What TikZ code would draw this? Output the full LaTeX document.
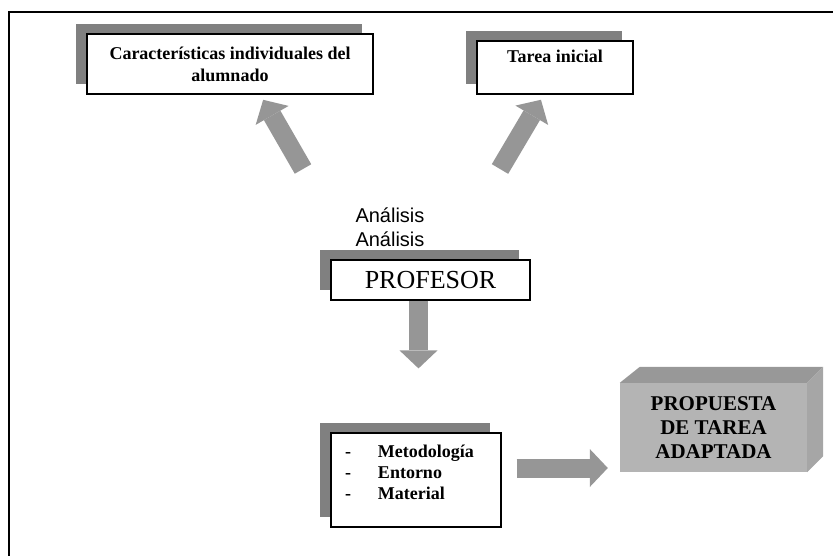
\documentclass[tikz,border=0pt]{standalone}
\usepackage{fontspec}
\setmainfont{Liberation Serif}
\newfontfamily\arialfont{Liberation Sans}
\usetikzlibrary{arrows.meta,shadows,calc,positioning}
\definecolor{shadowgray}{HTML}{808080}
\definecolor{arrowgray}{HTML}{969696}
\definecolor{frontgray}{HTML}{B4B4B4}
\definecolor{topgray}{HTML}{989898}
\definecolor{sidegray}{HTML}{A6A6A6}
\tikzset{
    %Define style for boxes
    shadowbox/.style={
           rectangle,
           draw=black, line width=1.2pt,
           fill=white,
           font=\bfseries\fontsize{18}{22}\selectfont,
           align=center,
           general shadow={fill=shadowgray, shadow xshift=-11pt, shadow yshift=10pt}},
    % Define arrow style
    bigarrow/.style={
           draw=arrowgray,
           line width=19pt,
           -{Triangle[length=18pt,width=38pt,line width=0pt]}},
}
\begin{document}
\begin{tikzpicture}[x=1pt,y=-1pt]
\useasboundingbox (0,0) rectangle (833,555);
\clip (0,0) rectangle (833,555);
% frame
\draw[line width=2pt] (9,570) -- (9,12) -- (850,12);
% boxes
\node[shadowbox, minimum width=286pt, minimum height=60pt] (car) at (230,64) {Características individuales del\\alumnado};
\node[shadowbox, minimum width=156pt, minimum height=53pt] (tarea) at (555,67.5) {Tarea inicial\\~};
\node[font=\arialfont\fontsize{20}{24}\selectfont, align=left, anchor=west] (ana) at (352,227) {Análisis\\Análisis};
\node[shadowbox, minimum width=199pt, minimum height=40pt, font=\fontsize{26}{30}\selectfont] (prof) at (430.5,280) {PROFESOR};
\node[shadowbox, minimum width=170pt, minimum height=94pt, text width=142pt, align=left, font=\bfseries\fontsize{18}{21}\selectfont] (met) at (416,480)
  {\begin{tabular}{@{}l@{\hspace{27pt}}l@{}}-&Metodología\\-&Entorno\\-&Material\\[12pt]\end{tabular}};
\node[fill=frontgray, minimum width=187pt, minimum height=89pt, font=\bfseries\fontsize{21}{24}\selectfont, align=center] (prop) at (713.5,427.5) {PROPUESTA\\DE TAREA\\ADAPTADA};
\fill[topgray] (prop.north west) -- ++(20,-16) -- ($(prop.north east)+(16,-16)$) -- (prop.north east) -- cycle;
\fill[sidegray] (prop.north east) -- ++(16,-16) -- ($(prop.south east)+(16,-16)$) -- (prop.south east) -- cycle;
% arrows
\coordinate (t1) at (303,169);
\coordinate (t2) at (500,169);
\draw[bigarrow, shorten >=6pt] (t1) -- ($(car.south west)!0.605!(car.south east)$);
\draw[bigarrow, shorten >=6pt] (t2) -- ($(tarea.south west)!0.43!(tarea.south east)$);
\draw[bigarrow, shorten >=64pt] ([xshift=-12pt]prof.south) -- ([xshift=-12pt]prof.south |- met.north);
\draw[bigarrow, shorten <=15pt, shorten >=12pt] ([yshift=12pt]met.east) -- ([yshift=12pt]met.east -| prop.west);
\end{tikzpicture}
\end{document}
